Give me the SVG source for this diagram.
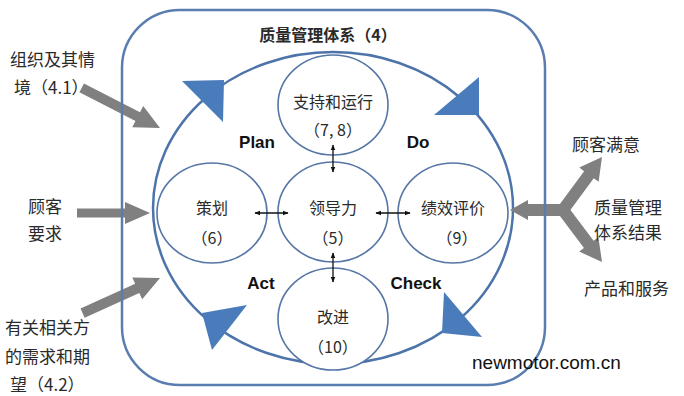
<svg xmlns="http://www.w3.org/2000/svg" width="684" height="396" viewBox="0 0 684 396">
<style>
.cjk{font-family:"Noto Sans CJK SC","Liberation Sans",sans-serif;fill:#2a2a2a}
.lbl{font-size:16px}
.ctr{text-anchor:middle}
.pdca{font-family:"Liberation Sans",Arial,sans-serif;font-weight:bold;font-size:17px;fill:#111;text-anchor:middle}
.node{fill:#fff;stroke:#5676a6;stroke-width:1.6}
.tri{fill:#4a7cbc}
.gray{fill:#808080}
.dbl{stroke:#111;stroke-width:1.3;fill:none;marker-start:url(#ah);marker-end:url(#ah)}
</style>
<defs>
<marker id="ah" viewBox="0 0 10 10" refX="9" refY="5" markerWidth="6" markerHeight="6" orient="auto-start-reverse" markerUnits="userSpaceOnUse"><path d="M0,1 L10,5 L0,9 z" fill="#111"/></marker>
</defs>
<rect width="684" height="396" fill="#fff"/>
<g id="frame">
<rect x="122" y="10" width="423" height="375" rx="58" ry="58" fill="#fff" stroke="none"/>
<text class="cjk ctr" x="328" y="41" font-size="16" font-weight="bold" fill="#111">质量管理体系（4）</text>
</g>
<g id="cycle">
<ellipse cx="333" cy="208" rx="180" ry="156" fill="none" stroke="#4d74aa" stroke-width="2.5"/>
<polygon class="tri" points="182,81 224,80 223,122"/>
<polygon class="tri" points="479,77 434,115 479,115"/>
<polygon class="tri" points="444,292 442,333 482,337"/>
<polygon class="tri" points="202,313 247,305 212,350"/>
<text class="pdca" x="257" y="148">Plan</text>
<text class="pdca" x="418" y="148">Do</text>
<text class="pdca" x="261" y="289">Act</text>
<text class="pdca" x="416" y="289">Check</text>
</g>
<g id="n-support">
<ellipse class="node" cx="333" cy="105" rx="55" ry="50"/>
<text class="cjk lbl ctr" x="333" y="108">支持和运行</text>
<text class="cjk lbl ctr" x="333" y="136">（7, 8）</text>
</g>
<g id="n-leadership">
<ellipse class="node" cx="333" cy="212" rx="55" ry="50"/>
<text class="cjk lbl ctr" x="333" y="214">领导力</text>
<text class="cjk lbl ctr" x="333" y="244">（5）</text>
</g>
<g id="n-planning">
<ellipse class="node" cx="212" cy="213" rx="55" ry="50"/>
<text class="cjk lbl ctr" x="212" y="214">策划</text>
<text class="cjk lbl ctr" x="212" y="244">（6）</text>
</g>
<g id="n-performance">
<ellipse class="node" cx="453" cy="213" rx="55" ry="50"/>
<text class="cjk lbl ctr" x="453" y="214">绩效评价</text>
<text class="cjk lbl ctr" x="457" y="244">（9）</text>
</g>
<g id="n-improvement">
<ellipse class="node" cx="333" cy="319" rx="55" ry="51"/>
<text class="cjk lbl ctr" x="333" y="323">改进</text>
<text class="cjk lbl ctr" x="333" y="353">（10）</text>
</g>
<g id="connectors">
<line class="dbl" x1="333" y1="145" x2="333" y2="172"/>
<line class="dbl" x1="255" y1="213" x2="288" y2="213"/>
<line class="dbl" x1="376" y1="213" x2="410" y2="213"/>
<line class="dbl" x1="333" y1="253" x2="333" y2="282"/>
<polygon class="gray" transform="translate(160,128) rotate(27.1)" points="0,0 -25,-12 -25,-5 -88,-5 -88,5 -25,5 -25,12"/>
<polygon class="gray" transform="translate(150,213)" points="0,0 -25,-11 -25,-4.5 -73,-4.5 -73,4.5 -25,4.5 -25,11"/>
<polygon class="gray" transform="translate(160,278) rotate(-24.4)" points="0,0 -25,-12 -25,-5 -85,-5 -85,5 -25,5 -25,12"/>
<polygon class="gray" transform="translate(510,210) rotate(180)" points="0,0 -18,-10 -18,-6 -56,-6 -56,6 -18,6 -18,10"/>
<polygon class="gray" transform="translate(602,157) rotate(-53.6)" points="0,0 -22,-12 -22,-6 -68,-6 -68,6 -22,6 -22,12"/>
<polygon class="gray" transform="translate(602,262) rotate(53.1)" points="0,0 -22,-12 -22,-6 -68,-6 -68,6 -22,6 -22,12"/>
</g>
<rect id="frame-border" x="122" y="10" width="423" height="375" rx="58" ry="58" fill="none" stroke="#5a7db0" stroke-width="2.5"/>
<g id="in-context">
<text class="cjk" x="10" y="66" font-size="17">组织及其情</text>
<text class="cjk" x="14" y="94" font-size="17">境（4.1）</text>
</g>
<g id="in-customer">
<text class="cjk" x="28" y="213" font-size="17">顾客</text>
<text class="cjk" x="28" y="240" font-size="17">要求</text>
</g>
<g id="in-parties">
<text class="cjk" x="5" y="334" font-size="17">有关相关方</text>
<text class="cjk" x="5" y="363" font-size="17">的需求和期</text>
<text class="cjk" x="10" y="391" font-size="17">望（4.2）</text>
</g>
<g id="out-satisfaction">
<text class="cjk" x="572" y="151" font-size="17">顾客满意</text>
</g>
<g id="out-results">
<text class="cjk" x="594" y="214" font-size="17">质量管理</text>
<text class="cjk" x="594" y="239" font-size="17">体系结果</text>
</g>
<g id="out-products">
<text class="cjk" x="584" y="295" font-size="17">产品和服务</text>
</g>
<text x="472" y="369" font-family="'Liberation Sans',Arial,sans-serif" font-size="19" fill="#111">newmotor.com.cn</text>
</svg>
